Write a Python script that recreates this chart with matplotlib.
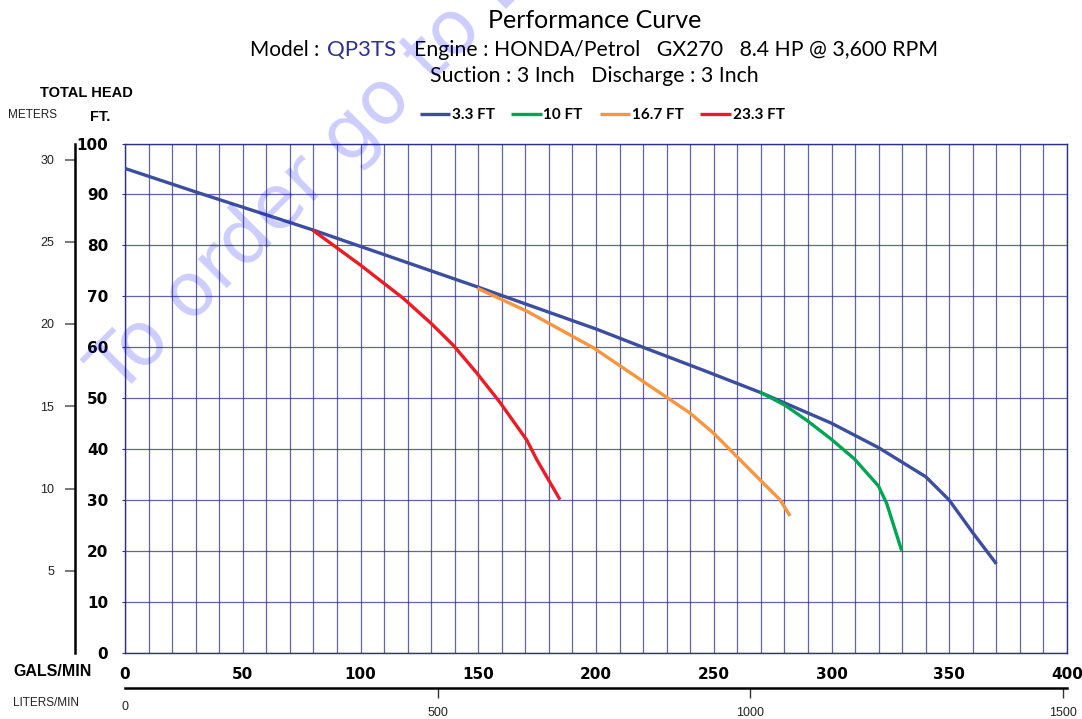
import matplotlib.pyplot as plt

# pump curves: flow (US gal/min) vs total head (ft)
gpm_33 = [0, 30, 80, 100, 150, 200, 220, 245, 270, 300, 320, 340, 350, 360, 370]
ft_33 = [95.1, 90.5, 83.0, 79.8, 71.8, 63.6, 60.0, 55.6, 51.1, 45.1, 40.3, 34.6, 30.0, 23.6, 17.5]

gpm_10 = [269.6, 280.0, 289.7, 299.8, 309.7, 319.9, 323.4, 329.8]
ft_10 = [51.2, 48.7, 45.6, 42.0, 38.1, 32.8, 29.4, 20.1]

gpm_167 = [149.6, 170.6, 198.9, 220, 239.9, 249.8, 259.7, 269.6, 278.1, 282.4]
ft_167 = [71.6, 67.1, 59.9, 53.3, 47.1, 43.2, 38.6, 34.0, 30.1, 26.9]

gpm_233 = [79.7, 99.8, 118.2, 130.2, 139.4, 149.3, 159.2, 170.6, 174.8, 184.7]
ft_233 = [83.0, 76.2, 69.6, 64.6, 60.4, 55.0, 49.2, 41.8, 38.0, 30.1]

labels = ['3.3 FT', '10 FT', '16.7 FT', '23.3 FT']
colors = ['#3b4ea0', '#00a651', '#f7963f', '#ed1c24']

gpm_ticks = [0, 50, 100, 150, 200, 250, 300, 350, 400]
ft_ticks = [0, 10, 20, 30, 40, 50, 60, 70, 80, 90, 100]
m_ticks = [5, 10, 15, 20, 25, 30]
lpm_ticks = [500, 1000, 1500]
lpm_max = 1506   # liters/min at 400 gal/min, as drawn

#*figure in pixel terms
W, H = 1082, 719
fig = plt.figure(figsize=(W / 100, H / 100), dpi=100)

def box(l, t, r, b):
    return [l / W, 1 - b / H, (r - l) / W, (b - t) / H]

def fx(x):
    return x / W

def fy(y):
    return 1 - y / H

navy = '#2e3183'
title_font = 'Lato'
num_font = 'DejaVu Sans'
small_font = 'Liberation Sans'

# main grid
ax = fig.add_axes(box(125, 143.5, 1067, 653))
ax.set_xlim(0, 400)
ax.set_ylim(0, 100)
for x in range(0, 401, 10):
    ax.axvline(x, color=navy, lw=0.9, alpha=0.75, zorder=1)
for y in range(0, 101, 10):
    ax.axhline(y, color=navy, lw=0.9, alpha=0.75, zorder=1)
for s in ax.spines.values():
    s.set_color(navy)
    s.set_linewidth(1.0)
ax.set_xticks(gpm_ticks)
ax.set_yticks(ft_ticks)
ax.tick_params(axis='x', length=0, pad=10)
ax.tick_params(axis='y', length=2, color=navy, pad=10)
for t in ax.get_xticklabels() + ax.get_yticklabels():
    t.set_fontfamily(num_font)
    t.set_fontweight('bold')
    t.set_fontsize(11)

series = [(gpm_33, ft_33), (gpm_10, ft_10), (gpm_167, ft_167), (gpm_233, ft_233)]
handles = []
for (g, f), lab, c in zip(series, labels, colors):
    h, = ax.plot(g, f, color=c, lw=2.4, label=lab, zorder=3,
                 solid_joinstyle='round', solid_capstyle='butt')
    handles.append(h)

# meters scale
axm = fig.add_axes(box(75, 143.5, 76, 653))
axm.set_ylim(0, 509.5 / 16.45)
axm.set_xticks([])
axm.set_yticks(m_ticks)
for k in ['top', 'right', 'bottom']:
    axm.spines[k].set_visible(False)
axm.spines['left'].set_linewidth(1.8)
axm.patch.set_visible(False)
axm.tick_params(axis='y', length=7, width=1.1, color='#555555', pad=8,
                labelsize=9, labelcolor='#222222')
for t in axm.get_yticklabels():
    t.set_fontfamily(small_font)

# liters scale
axl = fig.add_axes(box(125, 686, 1067, 688))
axl.set_xlim(0, lpm_max)
axl.set_yticks([])
for k in ['top', 'right', 'left']:
    axl.spines[k].set_visible(False)
axl.spines['bottom'].set_linewidth(1.8)
axl.patch.set_visible(False)
axl.set_xticks(lpm_ticks)
axl.tick_params(axis='x', length=7.5, width=1.0, color='#333333', pad=6,
                labelsize=9, labelcolor='#222222')
for t in axl.get_xticklabels():
    t.set_fontfamily(small_font)
axl.annotate('0', xy=(0, 0), xycoords=('data', 'axes fraction'), xytext=(0, -14),
             textcoords='offset points', ha='center', va='center', fontsize=9,
             family=small_font, color='#222222')

# axis names
fig.text(fx(13), fy(671), 'GALS/MIN', fontsize=11.5, fontweight='bold', family=small_font,
         va='center', ha='left')
fig.text(fx(13), fy(703), 'LITERS/MIN', fontsize=8.5, family=small_font, color='#222222',
         va='center', ha='left')
fig.text(fx(86), fy(93), 'TOTAL HEAD', fontsize=10.5, fontweight='bold', family=small_font,
         va='center', ha='center')
fig.text(fx(8), fy(115), 'METERS', fontsize=8.5, family=small_font, color='#222222',
         va='center', ha='left')
fig.text(fx(90), fy(117), 'FT.', fontsize=10.5, fontweight='bold', family=small_font,
         va='center', ha='left')

# titles
fig.text(fx(595), fy(20), 'Performance Curve', fontsize=18, family=title_font,
         ha='center', va='center')
fig.text(fx(250), fy(50), 'Model :', fontsize=15, family=title_font, ha='left', va='center')
fig.text(fx(327), fy(50), 'QP3TS', fontsize=16, family=title_font, color='#2e3192',
         ha='left', va='center')
fig.text(fx(414), fy(50), 'Engine : HONDA/Petrol   GX270   8.4 HP @ 3,600 RPM',
         fontsize=15.3, family=title_font, ha='left', va='center')
fig.text(fx(594), fy(76), 'Suction : 3 Inch   Discharge : 3 Inch', fontsize=15.3,
         family=title_font, ha='center', va='center')

fig.legend(handles=handles, loc='center', bbox_to_anchor=(fx(602), fy(115)), ncol=4,
           frameon=False, prop=dict(family=title_font, weight='bold', size=11),
           handlelength=2.0, handletextpad=0.1, columnspacing=1.1)

# watermark
fig.text(fx(118), fy(398), 'To order go to D', fontsize=54, family='DejaVu Sans',
         color='#0000ff', alpha=0.2, rotation=45, rotation_mode='anchor',
         ha='left', va='baseline')

fig.savefig('out.png', dpi=100)
